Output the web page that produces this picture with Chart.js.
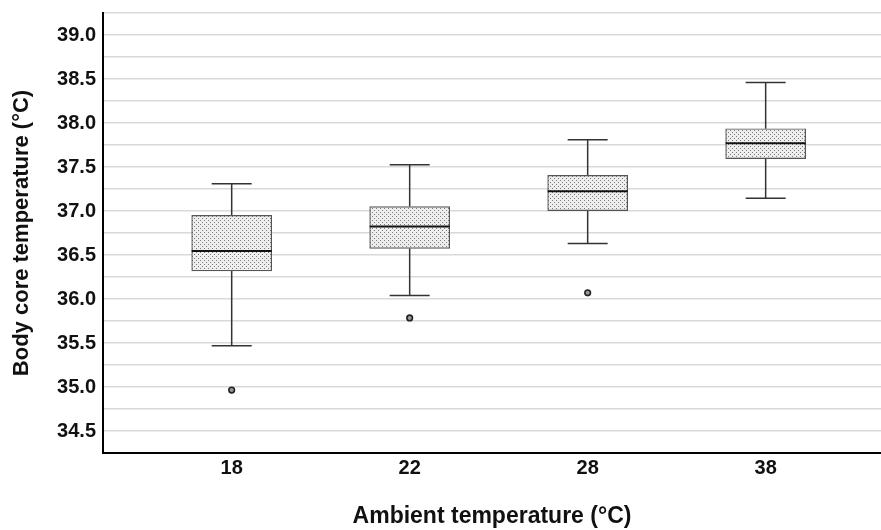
<!DOCTYPE html>
<html>
<head>
<meta charset="utf-8">
<script src="https://cdn.jsdelivr.net/npm/chart.js@4/dist/chart.umd.min.js"></script>
<style>
  body { margin: 0; background: #fff; }
  #wrap { width: 881px; height: 530px; }
</style>
</head>
<body>
<div id="wrap"><canvas id="chart"></canvas></div>
<script>
'use strict';

// ambient temperature groups
var categories  = ['18', '22', '28', '38'];
// box plot statistics, body core temperature (°C)
var whiskerLow  = [35.47, 36.04, 36.63, 37.145];
var q1          = [36.32, 36.575, 37.005, 37.595];
var median      = [36.545, 36.825, 37.225, 37.77];
var q3          = [36.95, 37.05, 37.405, 37.935];
var whiskerHigh = [37.31, 37.525, 37.81, 38.46];
var outliers    = [[34.965], [35.785], [36.07], []];

var fontFamily = '"Liberation Sans", Arial, sans-serif';

// stipple fill like the SPSS boxes
function stipple() {
  var c = document.createElement('canvas');
  c.width = 4; c.height = 4;
  var g = c.getContext('2d');
  g.fillStyle = '#eeeeee';
  g.fillRect(0, 0, 4, 4);
  g.fillStyle = '#7a7a7a';
  g.fillRect(0, 0, 1, 1);
  g.fillRect(2, 2, 1, 1);
  return g.createPattern(c, 'repeat');
}

// whiskers behind the boxes, medians on top
var boxWhiskers = {
  id: 'boxWhiskers',
  beforeDatasetsDraw: function(chart) {
    var ctx = chart.ctx, x = chart.scales.x, y = chart.scales.y;
    var bars = chart.getDatasetMeta(0).data;
    ctx.save();
    ctx.strokeStyle = '#333';
    ctx.lineWidth = 1.5;
    categories.forEach(function(c, i) {
      var cx = x.getPixelForValue(i);
      var half = bars[i].width / 4;
      ctx.beginPath();
      ctx.moveTo(cx, y.getPixelForValue(q1[i]));
      ctx.lineTo(cx, y.getPixelForValue(whiskerLow[i]));
      ctx.moveTo(cx, y.getPixelForValue(q3[i]));
      ctx.lineTo(cx, y.getPixelForValue(whiskerHigh[i]));
      ctx.moveTo(cx - half, y.getPixelForValue(whiskerLow[i]));
      ctx.lineTo(cx + half, y.getPixelForValue(whiskerLow[i]));
      ctx.moveTo(cx - half, y.getPixelForValue(whiskerHigh[i]));
      ctx.lineTo(cx + half, y.getPixelForValue(whiskerHigh[i]));
      ctx.stroke();
    });
    ctx.restore();
  },
  afterDatasetsDraw: function(chart) {
    var ctx = chart.ctx, y = chart.scales.y;
    var bars = chart.getDatasetMeta(0).data;
    ctx.save();
    ctx.strokeStyle = '#111';
    ctx.lineWidth = 2;
    categories.forEach(function(c, i) {
      var b = bars[i];
      var my = y.getPixelForValue(median[i]);
      ctx.beginPath();
      ctx.moveTo(b.x - b.width / 2, my);
      ctx.lineTo(b.x + b.width / 2, my);
      ctx.stroke();
    });
    ctx.restore();
  }
};

var boxData = categories.map(function(c, i) { return { x: i, y: [q1[i], q3[i]] }; });
var outlierData = [];
outliers.forEach(function(list, i) {
  list.forEach(function(v) { outlierData.push({ x: i, y: v }); });
});

new Chart(document.getElementById('chart'), {
  type: 'bar',
  data: {
    datasets: [{
      data: boxData,
      backgroundColor: stipple(),
      borderColor: '#555',
      borderWidth: 1.2,
      borderSkipped: false,
      barThickness: 80,
      grouped: false,
      order: 2
    }, {
      type: 'scatter',
      data: outlierData,
      pointRadius: 2.8,
      pointBackgroundColor: '#999',
      pointBorderColor: '#222',
      pointBorderWidth: 1.6,
      order: 1
    }]
  },
  options: {
    responsive: true,
    maintainAspectRatio: false,
    animation: false,
    layout: { autoPadding: false, padding: { top: 13, right: 0, left: 0, bottom: 0 } },
    plugins: { legend: { display: false }, tooltip: { enabled: false } },
    scales: {
      x: {
        type: 'linear',
        offset: false,
        min: -0.723,
        max: 3.648,
        afterBuildTicks: function(scale) {
          scale.ticks = categories.map(function(c, i) { return { value: i }; });
        },
        afterFit: function(scale) {
          scale.height = 77;
          scale.paddingLeft = 0;
          scale.paddingRight = 0;
        },
        grid: { display: false, drawTicks: false, offset: false },
        border: { display: true, color: '#000', width: 2 },
        ticks: {
          padding: 3,
          color: '#111',
          font: { family: fontFamily, size: 20, weight: 'bold' },
          callback: function(v) { return categories[v]; }
        },
        title: {
          display: true,
          text: 'Ambient temperature (°C)',
          color: '#111',
          padding: { top: 0, bottom: 0 },
          font: { family: fontFamily, size: 23, weight: 'bold' }
        }
      },
      y: {
        min: 34.25,
        max: 39.25,
        afterFit: function(scale) {
          scale.width = 103;
          scale.paddingTop = 0;
          scale.paddingBottom = 0;
        },
        grid: { color: '#d9d9d9', lineWidth: 1.5, drawTicks: false },
        border: { display: true, color: '#000', width: 2 },
        ticks: {
          stepSize: 0.25,
          maxTicksLimit: 40,
          autoSkip: false,
          padding: 7,
          color: '#111',
          font: { family: fontFamily, size: 20, weight: 'bold' },
          callback: function(v) {
            return Math.abs(v * 2 - Math.round(v * 2)) < 1e-6 ? v.toFixed(1) : '';
          }
        },
        title: {
          display: true,
          text: 'Body core temperature (°C)',
          color: '#111',
          padding: { top: 9, bottom: 0 },
          font: { family: fontFamily, size: 22, weight: 'bold' }
        }
      }
    }
  },
  plugins: [boxWhiskers]
});
</script>
</body>
</html>
